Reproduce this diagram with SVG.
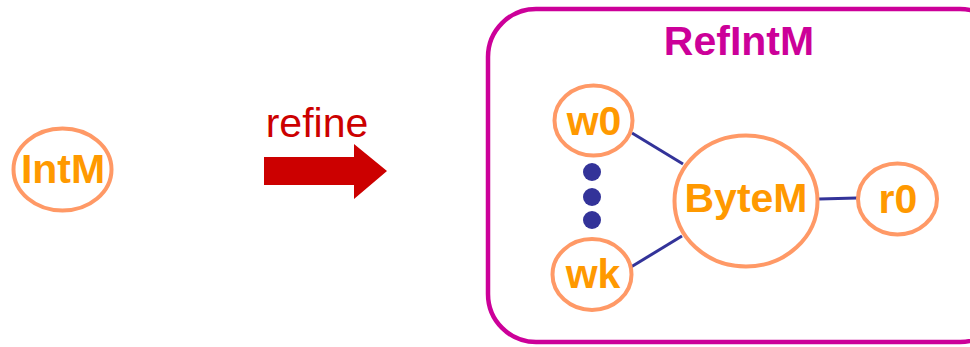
<svg xmlns="http://www.w3.org/2000/svg" width="970" height="347" viewBox="0 0 970 347">
  <style>
    .node { fill: #ffffff; stroke: #ff9966; stroke-width: 4; }
    .lbl { font-family: "Liberation Sans", Arial, sans-serif; font-weight: bold; font-size: 41px; fill: #ff9900; text-anchor: middle; }
    .link { stroke: #333399; stroke-width: 3; fill: none; }
    .dot { fill: #333399; }
  </style>
  <rect width="970" height="347" fill="#ffffff"/>

  <!-- abstract component -->
  <g id="IntM">
    <ellipse class="node" cx="62.5" cy="169.5" rx="49" ry="41"/>
    <text class="lbl" x="63" y="183">IntM</text>
  </g>

  <!-- refinement arrow -->
  <g id="refine">
    <text x="317" y="137" font-family="Liberation Sans, Arial, sans-serif" font-size="41" fill="#cc0000" text-anchor="middle">refine</text>
    <polygon points="264,157 354,157 354,144 387,171 354,199 354,185 264,185" fill="#cc0000"/>
  </g>

  <!-- refined module container -->
  <g id="RefIntM">
    <rect x="488" y="9" width="520" height="333" rx="48" ry="48" fill="none" stroke="#cc0099" stroke-width="4.5"/>
    <text x="739" y="55" font-family="Liberation Sans, Arial, sans-serif" font-weight="bold" font-size="41" fill="#cc0099" text-anchor="middle">RefIntM</text>
  </g>

  <!-- connectors -->
  <g id="connectors">
    <line class="link" x1="632" y1="133" x2="683" y2="164"/>
    <line class="link" x1="631" y1="267" x2="682" y2="236"/>
    <line class="link" x1="819" y1="199" x2="857" y2="198"/>
    <circle class="dot" cx="592" cy="172" r="9"/>
    <circle class="dot" cx="592" cy="197" r="9"/>
    <circle class="dot" cx="592" cy="220" r="9"/>
  </g>

  <g id="w0">
    <ellipse class="node" cx="593.5" cy="120.5" rx="39" ry="35"/>
    <text class="lbl" x="594" y="135">w0</text>
  </g>
  <g id="wk">
    <ellipse class="node" cx="592" cy="274.5" rx="39.5" ry="35.5"/>
    <text class="lbl" x="593" y="288">wk</text>
  </g>
  <g id="ByteM">
    <ellipse class="node" cx="746" cy="201" rx="71.5" ry="65.5"/>
    <text class="lbl" x="746" y="212">ByteM</text>
  </g>
  <g id="r0">
    <ellipse class="node" cx="897.5" cy="199" rx="39.5" ry="35.5"/>
    <text class="lbl" x="898" y="213">r0</text>
  </g>
</svg>
